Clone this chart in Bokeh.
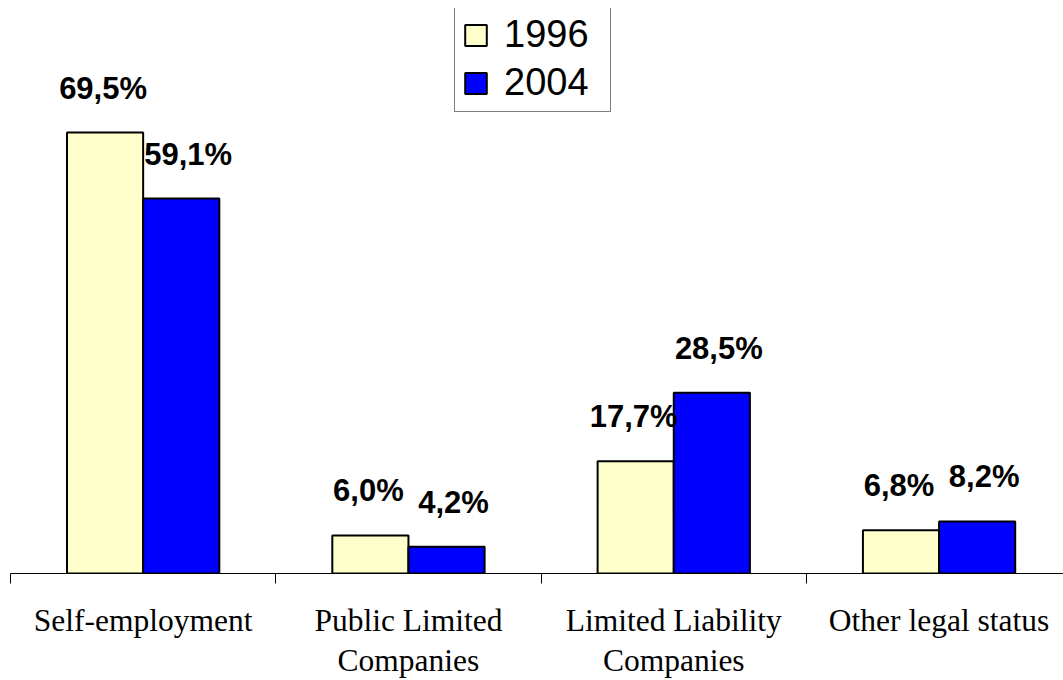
from bokeh.plotting import figure
from bokeh.models import (ColumnDataSource, LinearAxis, FixedTicker, Range1d,
                          Legend, LegendItem, LabelSet)
from bokeh.core.properties import value
from bokeh.embed import file_html
from bokeh.resources import INLINE

categories = ["Self-employment", "Public Limited Companies",
              "Limited Liability Companies", "Other legal status"]
tick_labels = ["Self-employment", "Public Limited\nCompanies",
               "Limited Liability\nCompanies", "Other legal status"]
years = ["1996", "2004"]
values_1996 = [69.5, 6.0, 17.7, 6.8]
values_2004 = [59.1, 4.2, 28.5, 8.2]
colors = ["#FFFFCC", "#0000FF"]

n = len(categories)
centers = [i + 0.5 for i in range(n)]
bw = 0.287


def fmt(v):
    return ("%.1f%%" % v).replace(".", ",")


p = figure(frame_width=1053, frame_height=565,
           x_range=Range1d(0, 3.969), y_range=Range1d(0, 89.05),
           output_backend="svg", toolbar_location=None,
           x_axis_type=None, y_axis_type=None,
           min_border_left=10, min_border_right=0,
           min_border_top=8, min_border_bottom=0)
p.outline_line_color = None
p.background_fill_color = "white"
p.border_fill_color = "white"

renderers = []
label_dx = [-2, 7]
for k, (vals, col) in enumerate([(values_1996, colors[0]), (values_2004, colors[1])]):
    xs = [c + (k - 0.5) * bw for c in centers]
    src = ColumnDataSource(dict(x=xs, top=vals, label=[fmt(v) for v in vals]))
    r = p.vbar(x="x", top="top", bottom=0, width=bw, source=src,
               fill_color=col, line_color="black", line_width=2)
    renderers.append(r)
    labels = LabelSet(x="x", y="top", text="label", source=src,
                      text_align="center", text_baseline="alphabetic",
                      x_offset=label_dx[k], y_offset=34,
                      text_font=value("Liberation Sans"),
                      text_font_style="bold", text_font_size="31px",
                      text_color="black")
    p.add_layout(labels)

# axis with tick marks at category boundaries
ax_ticks = LinearAxis(ticker=FixedTicker(ticks=list(range(n + 1))),
                      major_tick_in=0, major_tick_out=10,
                      minor_tick_line_color=None,
                      axis_line_color="black", axis_line_width=1,
                      major_tick_line_color="black",
                      major_label_text_font_size="0px",
                      major_label_standoff=0)
ax_ticks.major_label_overrides = {i: "" for i in range(n + 1)}
p.add_layout(ax_ticks, "below")

# axis carrying the category labels
ax_lab = LinearAxis(ticker=FixedTicker(ticks=centers),
                    major_tick_in=0, major_tick_out=0,
                    minor_tick_line_color=None,
                    axis_line_color=None, major_tick_line_color=None,
                    major_label_text_font="Liberation Serif",
                    major_label_text_font_size="31.5px",
                    major_label_text_color="black",
                    major_label_text_line_height=1.17,
                    major_label_standoff=19)
ax_lab.major_label_overrides = {c: t for c, t in zip(centers, tick_labels)}
p.add_layout(ax_lab, "below")

legend = Legend(items=[LegendItem(label=years[0], renderers=[renderers[0]]),
                       LegendItem(label=years[1], renderers=[renderers[1]])],
                location=(444, 461),
                glyph_width=27, glyph_height=26, label_standoff=15,
                label_width=99,
                padding=7, spacing=5, margin=0,
                border_line_color="black", border_line_width=1,
                background_fill_color="white", background_fill_alpha=1,
                label_text_font="Liberation Sans", label_text_font_size="38px",
                label_text_color="black")
p.add_layout(legend)

open("out.html", "w").write(file_html(p, INLINE))
